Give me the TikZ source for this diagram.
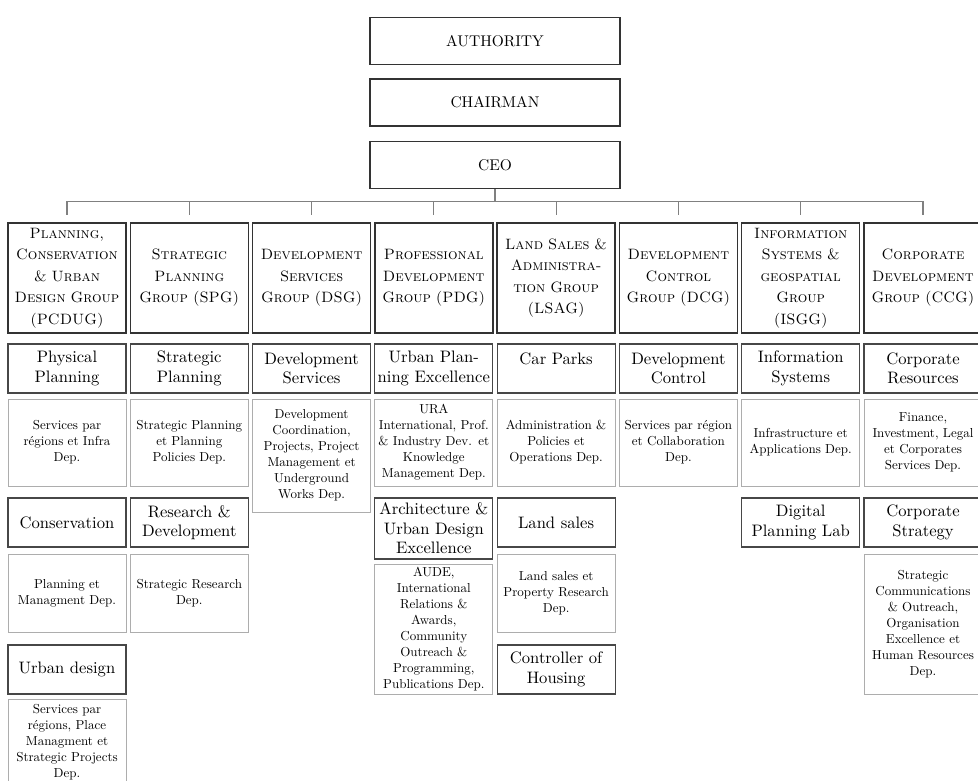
\documentclass[tikz,border=0pt]{standalone}
\usepackage{fontspec}
\setmainfont{lmroman10-regular.otf}[
  SmallCapsFont=lmromancaps10-regular.otf,
  BoldFont=lmroman10-bold.otf,
  ItalicFont=lmroman10-italic.otf]
\usetikzlibrary{calc}
\begin{document}
\begin{tikzpicture}[x=1pt,y=-1pt,
  box/.style={rectangle, align=center, inner sep=2pt, text width=114pt, minimum width=118pt},
  topbox/.style={rectangle, draw=black!80, line width=1.4pt, minimum width=250pt,
    minimum height=47pt, font=\fontsize{15.5}{19}\selectfont},
  grp/.style={box, draw=black!80, line width=1.4pt, minimum height=110pt,
    font=\fontsize{15}{21.5}\selectfont\scshape},
  head/.style={box, draw=black!72, line width=1.2pt, minimum height=49pt,
    font=\fontsize{16.6}{19.4}\selectfont},
  dept/.style={box, draw=black!32, line width=0.9pt,
    font=\fontsize{13}{16}\selectfont},
  conn/.style={draw=black!50, line width=1.1pt},
]
\useasboundingbox (0,0) rectangle (978,781);
\fill[white] (0,0) rectangle (978,781);
\clip (0,0) rectangle (978,781);

% top of the hierarchy
\node[topbox] (auth)  at (495,41)    {AUTHORITY};
\node[topbox] (chair) at (495,102.5) {CHAIRMAN};
\node[topbox] (ceo)   at (495,165)   {CEO};

% groups
\node[grp] (g1) at (67,278)    {Planning,\\Conservation\\\& Urban\\Design Group\\(PCDUG)};
\node[grp] (g2) at (189.3,278) {Strategic\\Planning\\Group (SPG)};
\node[grp] (g3) at (311.6,278) {Development\\Services\\Group (DSG)};
\node[grp] (g4) at (433.8,278) {Professional\\Development\\Group (PDG)};
\node[grp] (g5) at (556.1,278) {Land Sales \&\\Administra-\\tion Group\\(LSAG)};
\node[grp] (g6) at (678.4,278) {Development\\Control\\Group (DCG)};
\node[grp] (g7) at (800.7,278) {Information\\Systems \&\\geospatial\\Group\\(ISGG)};
\node[grp] (g8) at (923,278)   {Corporate\\Development\\Group (CCG)};

\foreach \g in {g1,g2,g3,g4,g5,g6,g7,g8}
  \draw[conn, shorten >=7pt] (ceo.south) -- ++(0,12) -| (\g.north);

% PCDUG
\node[head] (h11) at (67,368.5) {Physical\\Planning};
\node[dept, minimum height=87pt] (d11) at (67,442.5) {Services par\\régions et Infra\\Dep.};
\node[head] (h12) at (67,522.5) {Conservation};
\node[dept, minimum height=78pt] (d12) at (67,593) {Planning et\\Managment Dep.};
\node[head] (h13) at (67,669.5) {Urban design};
\node[dept, minimum height=86pt] (d13) at (67,742) {Services par\\régions, Place\\Managment et\\Strategic Projects\\Dep.};

% SPG
\node[head] (h21) at (189.3,368.5) {Strategic\\Planning};
\node[dept, minimum height=87pt] (d21) at (189.3,442.5) {Strategic Planning\\et Planning\\Policies Dep.};
\node[head] (h22) at (189.3,522.5) {Research \&\\Development};
\node[dept, minimum height=78pt] (d22) at (189.3,593) {Strategic Research\\Dep.};

% DSG
\node[head] (h31) at (311.6,368.5) {Development\\Services};
\node[dept, minimum height=113pt] (d31) at (311.6,455.5) {Development\\Coordination,\\Projects, Project\\Management et\\Underground\\Works Dep.};

% PDG
\node[head] (h41) at (433.8,368.5) {Urban Plan-\\ning Excellence};
\node[dept, minimum height=87pt] (d41) at (433.8,442.5) {URA\\International, Prof.\\\& Industry Dev. et\\Knowledge\\Management Dep.};
\node[head, minimum height=61pt] (h42) at (433.8,528.5) {Architecture \&\\Urban Design\\Excellence};
\node[dept, minimum height=130pt] (d42) at (433.8,629) {AUDE,\\International\\Relations \&\\Awards,\\Community\\Outreach \&\\Programming,\\Publications Dep.};

% LSAG
\node[head] (h51) at (556.1,368.5) {Car Parks\\\mbox{}};
\node[dept, minimum height=87pt] (d51) at (556.1,442.5) {Administration \&\\Policies et\\Operations Dep.};
\node[head] (h52) at (556.1,522.5) {Land sales};
\node[dept, minimum height=78pt] (d52) at (556.1,593) {Land sales et\\Property Research\\Dep.};
\node[head] (h53) at (556.1,669.5) {Controller of\\Housing};

% DCG
\node[head] (h61) at (678.4,368.5) {Development\\Control};
\node[dept, minimum height=87pt] (d61) at (678.4,442.5) {Services par région\\et Collaboration\\Dep.};

% ISGG
\node[head] (h71) at (800.7,368.5) {Information\\Systems};
\node[dept, minimum height=87pt] (d71) at (800.7,442.5) {Infrastructure et\\Applications Dep.};
\node[head] (h72) at (800.7,522.5) {Digital\\Planning Lab};

% CCG
\node[head] (h81) at (923,368.5) {Corporate\\Resources};
\node[dept, minimum height=87pt] (d81) at (923,442.5) {Finance,\\Investment, Legal\\et Corporates\\Services Dep.};
\node[head] (h82) at (923,522.5) {Corporate\\Strategy};
\node[dept, minimum height=140pt] (d82) at (923,624) {Strategic\\Communications\\\& Outreach,\\Organisation\\Excellence et\\Human Resources\\Dep.};
\end{tikzpicture}
\end{document}
